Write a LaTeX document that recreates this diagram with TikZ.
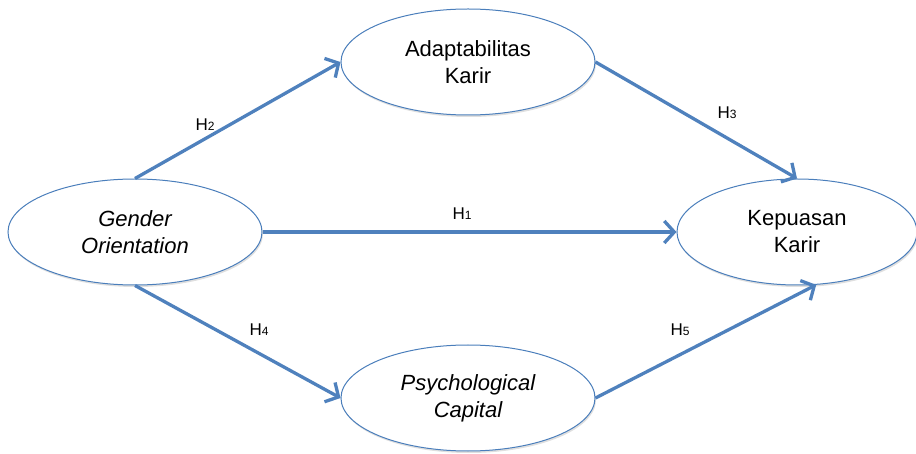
\documentclass[tikz,border=0pt]{standalone}
\usepackage{fontspec}
\setmainfont{Liberation Sans}
\usetikzlibrary{shapes.geometric, arrows.meta, shadows}
\definecolor{varblue}{HTML}{4A7EBB}
\definecolor{pathblue}{HTML}{4F81BD}

\begin{document}
\begin{tikzpicture}[
          x=1pt,
          y=-1pt,
          var/.style={ellipse, draw=varblue, line width=1pt, fill=white,
            minimum width=254pt, minimum height=106pt, inner sep=0pt,
            align=center, font=\fontsize{22}{27}\selectfont,
            drop shadow={opacity=0.25, shadow xshift=1pt, shadow yshift=-2pt}},
          hyp/.style={pathblue, line width=3.3pt,
            -{Straight Barb[length=10pt, width=22pt]}},
          lbl/.style={font=\fontsize{17}{20}\selectfont},
        ]
      \useasboundingbox (0, 0) rectangle (916, 454);
      % latent variables
      \node[var] (go) at (135, 232) {\itshape Gender\\ \itshape Orientation};
      \node[var] (ak) at (468, 62) {Adaptabilitas\\ Karir};
      \node[var, minimum width=240pt] (kk) at (797, 232) {Kepuasan\\ Karir};
      \node[var] (pc) at (468, 398) {\itshape Psychological\\ \itshape Capital};
      % hypotheses
      \draw[hyp] (go.north) -- (ak.west);
      \draw[hyp] (ak.east) -- (kk.north);
      \draw[hyp] (go.east) -- (kk.west);
      \draw[hyp] (go.south) -- (pc.west);
      \draw[hyp] (pc.east) -- (kk.-70);
      \node[lbl] (h1) at (462, 214) {H{\fontsize{12}{12}\selectfont 1}};
      \node[lbl] (h2) at (205, 125) {H{\fontsize{12}{12}\selectfont 2}};
      \node[lbl] (h3) at (727, 113) {H{\fontsize{12}{12}\selectfont 3}};
      \node[lbl] (h4) at (259, 330) {H{\fontsize{12}{12}\selectfont 4}};
      \node[lbl] (h5) at (680, 330) {H{\fontsize{12}{12}\selectfont 5}};
    \end{tikzpicture}
\end{document}
